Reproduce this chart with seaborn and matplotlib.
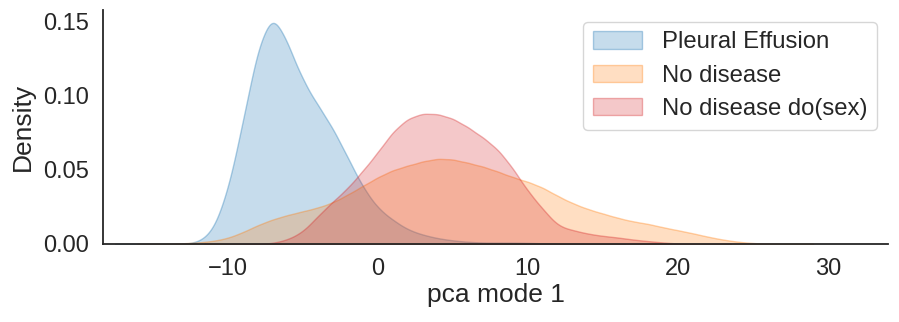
import numpy as np
import matplotlib
matplotlib.use("Agg")
import matplotlib.pyplot as plt
import seaborn as sns
from matplotlib.colors import to_rgba

# Density curves (value at integer pca-mode-1 positions)
pe_x = list(range(-13, 13))
pe_d = [0.0, 0.001, 0.008, 0.036, 0.085, 0.139, 0.165, 0.142, 0.115, 0.098,
        0.082, 0.061, 0.040, 0.025, 0.017, 0.010, 0.0065, 0.004, 0.0025,
        0.0015, 0.001, 0.001, 0.001, 0.0008, 0.0005, 0.0002]

nd_x = list(range(-13, 27))
nd_d = [0.0005, 0.001, 0.002, 0.004, 0.008, 0.013, 0.017, 0.020, 0.0225, 0.025,
        0.0285, 0.034, 0.040, 0.046, 0.051, 0.054, 0.057, 0.059, 0.0585, 0.056,
        0.0535, 0.050, 0.046, 0.043, 0.039, 0.033, 0.028, 0.024, 0.021, 0.018,
        0.0155, 0.014, 0.0115, 0.0095, 0.0074, 0.005, 0.003, 0.0015, 0.0006,
        0.0002]

ds_x = list(range(-8, 21))
ds_d = [0.0, 0.0005, 0.003, 0.008, 0.019, 0.029, 0.038, 0.050, 0.0625, 0.077,
        0.086, 0.0895, 0.089, 0.086, 0.080, 0.073, 0.065, 0.052, 0.036, 0.024,
        0.012, 0.0095, 0.007, 0.0055, 0.0045, 0.003, 0.002, 0.001, 0.0003]

labels = ["Pleural Effusion", "No disease", "No disease do(sex)"]
colors = ["#1f77b4", "#ff7f0e", "#d62728"]

sns.set_theme(style="white")
plt.rcParams["font.family"] = ["Liberation Sans", "DejaVu Sans"]

fig, ax = plt.subplots(figsize=(8.99, 3.22), dpi=100)
fig.subplots_adjust(left=103/899, right=888/899, top=1-10/322, bottom=1-244/322)

target_bw = 0.6
for xs, ds, lab, col in zip([pe_x, nd_x, ds_x], [pe_d, nd_d, ds_d], labels, colors):
    xs = np.asarray(xs, float)
    ws = np.asarray(ds, float)
    mean = np.average(xs, weights=ws)
    std = np.sqrt(np.average((xs - mean) ** 2, weights=ws))
    sns.kdeplot(x=xs, weights=ws, fill=True, bw_method=target_bw / std,
                gridsize=400, cut=3, ax=ax, label=lab,
                facecolor=to_rgba(col, 0.25), edgecolor=to_rgba(col, 0.35),
                linewidth=1.0)

ax.set_xlim(-18.3, 34.0)
ax.set_ylim(0, 0.158)
ax.set_yticks([0.0, 0.05, 0.10, 0.15])
ax.set_xticks([-10, 0, 10, 20, 30])
ax.set_yticklabels(["0.00", "0.05", "0.10", "0.15"])
ax.tick_params(labelsize=17, colors="#262626", pad=4)
ax.set_xlabel("pca mode 1", fontsize=19, color="#262626", labelpad=2)
ax.set_ylabel("Density", fontsize=19, color="#262626", labelpad=6)
sns.despine(ax=ax)
for s in ["left", "bottom"]:
    ax.spines[s].set_color("#262626")
    ax.spines[s].set_linewidth(1.3)

ax.legend(loc="upper right", fontsize=17.2, frameon=True,
          bbox_to_anchor=(0.986, 0.949), borderaxespad=0,
          handlelength=2.05, handleheight=0.74,
          borderpad=0.4, labelspacing=0.47, handletextpad=0.85)

fig.savefig("out.png", dpi=100)
